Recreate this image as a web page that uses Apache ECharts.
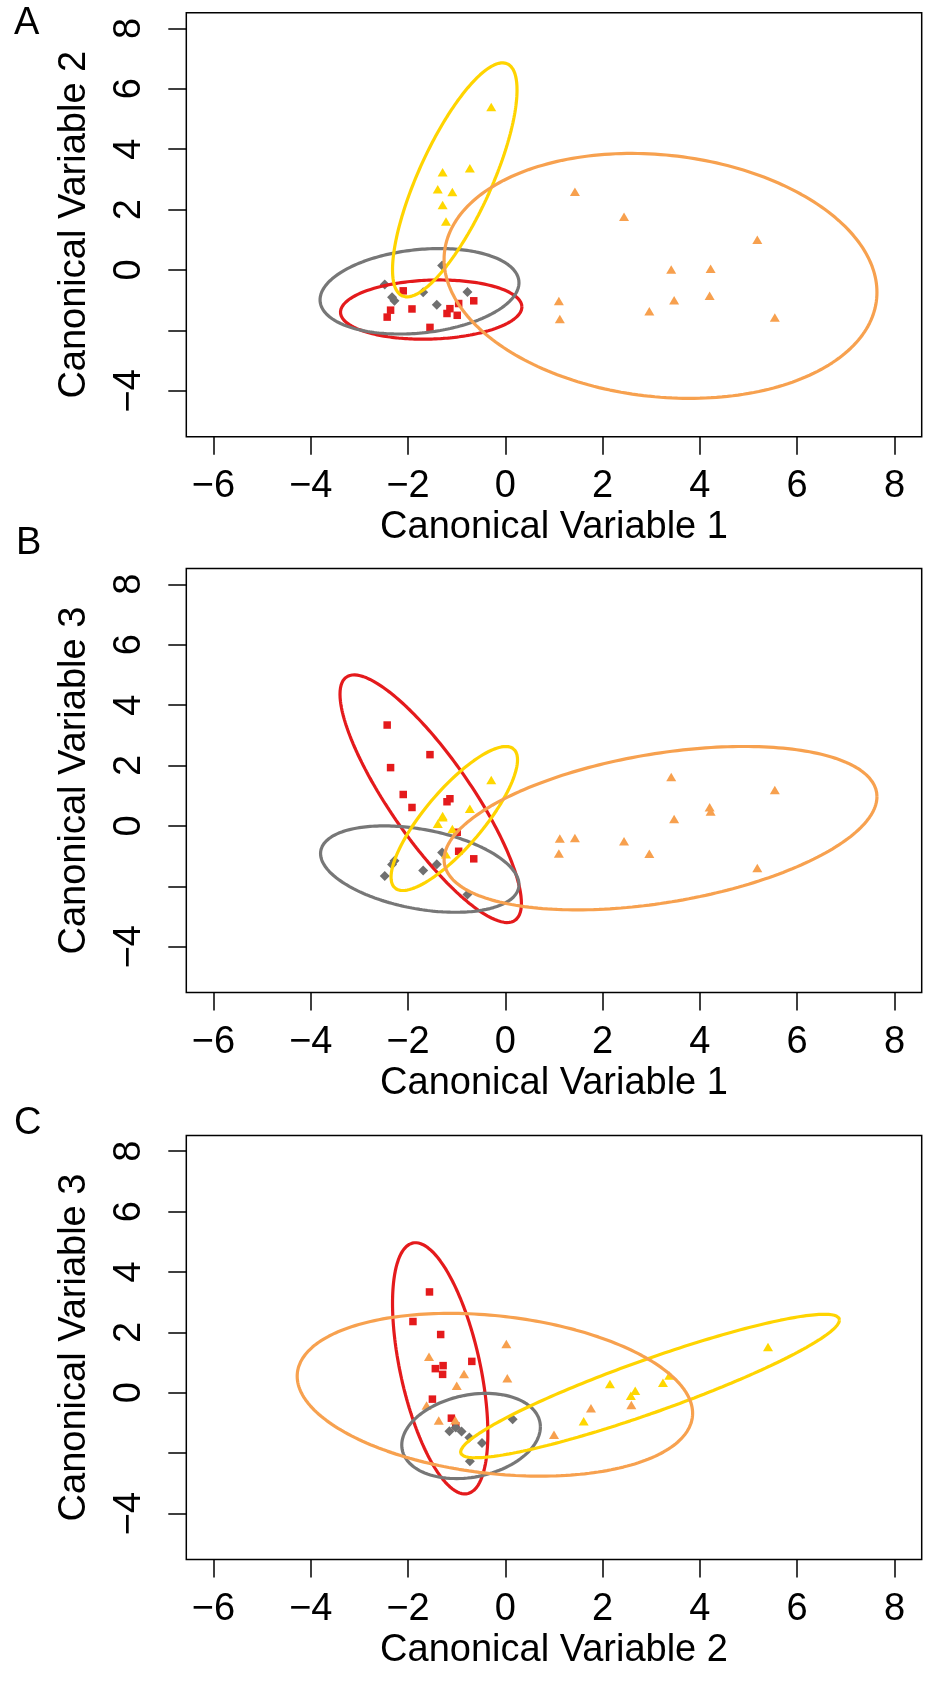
<!DOCTYPE html>
<html><head><meta charset="utf-8">
<script src="https://cdn.jsdelivr.net/npm/echarts@6/dist/echarts.min.js"></script>
<style>html,body{margin:0;padding:0;background:#fff}#c{width:925px;height:1686px}</style>
</head><body><div id="c"></div>
<script>
// ---------- tick labels / titles ----------
const xTicks = [-6, -4, -2, 0, 2, 4, 6, 8];
const yTicks = [-4, -2, 0, 2, 4, 6, 8];
const yTickLabels = [-4, 0, 2, 4, 6, 8];
const panelLetters = ['A', 'B', 'C'];
const xTitles = ['Canonical Variable 1', 'Canonical Variable 1', 'Canonical Variable 2'];
const yTitles = ['Canonical Variable 2', 'Canonical Variable 3', 'Canonical Variable 3'];
const panelX = ['cv1', 'cv1', 'cv2'];
const panelY = ['cv2', 'cv3', 'cv3'];

// ---------- canonical scores per group ----------
const redCV1 = [-2.10, -2.36, -2.43, -1.92, -1.55, -1.14, -1.20, -0.99, -0.96, -0.65];
const redCV2 = [-0.69, -1.33, -1.56, -1.29, -1.90, -1.28, -1.44, -1.50, -1.11, -1.02];
const redCV3 = [1.04, 1.93, 3.34, 0.61, 2.36, 0.90, 0.80, -0.21, -0.84, -1.09];

const grayCV1 = [-2.48, -2.33, -2.28, -1.69, -1.41, -0.78, -1.30];
const grayCV2 = [-0.48, -0.90, -1.02, -0.74, -1.15, -0.73, 0.15];
const grayCV3 = [-1.66, -1.28, -1.15, -1.48, -1.27, -2.27, -0.88];

const yellowCV1 = [-0.29, -1.29, -0.73, -1.39, -1.09, -1.29, -1.22];
const yellowCV2 = [5.40, 3.24, 3.37, 2.67, 2.58, 2.15, 1.61];
const yellowCV3 = [1.52, 0.33, 0.57, 0.07, -0.10, 0.29, -0.94];

const orangeCV1 = [1.43, 2.44, 5.18, 3.41, 4.22, 3.47, 4.20, 2.96, 1.10, 1.12, 5.54];
const orangeCV2 = [2.59, 1.76, 1.00, 0.02, 0.04, -1.00, -0.85, -1.37, -1.03, -1.62, -1.57];
const orangeCV3 = [-0.40, -0.51, -1.39, 1.62, 0.48, 0.23, 0.62, -0.92, -0.91, -0.42, 1.19];

// ---------- ellipses: [centerX, centerY, halfWidth, halfHeight, yPhaseCos] ----------
const redEllA = [-1.525, -1.31, 1.865, 0.98, 0.09];
const grayEllA = [-1.765, -0.705, 2.045, 1.415, 0.20];
const yellowEllA = [-1.04, 2.985, 1.28, 3.875, 0.768];
const orangeEllA = [3.19, -0.195, 4.45, 4.055, -0.134];

const redEllB = [-1.535, 0.90, 1.865, 4.10, -0.844];
const grayEllB = [-1.76, -1.43, 2.04, 1.43, -0.36];
const yellowEllB = [-1.05, 0.245, 1.30, 2.385, 0.815];
const orangeEllB = [3.19, -0.075, 4.45, 2.705, 0.386];

const redEllC = [-1.34, 0.81, 0.98, 4.16, -0.517];
const grayEllC = [-0.705, -1.43, 1.425, 1.41, 0.213];
const yellowEllC = [2.975, 0.225, 3.895, 2.375, 0.92];
const orangeEllC = [-0.215, -0.065, 4.065, 2.695, -0.228];

// ---------- build ----------
const groups = [
  {key: 'red', cv1: redCV1, cv2: redCV2, cv3: redCV3, color: '#E41A1C', symbol: 'rect', size: [7.5, 7.5], ell: [redEllA, redEllB, redEllC]},
  {key: 'gray', cv1: grayCV1, cv2: grayCV2, cv3: grayCV3, color: '#707070', symbol: 'diamond', size: [10, 10], lineColor: '#777777', ell: [grayEllA, grayEllB, grayEllC]},
  {key: 'yellow', cv1: yellowCV1, cv2: yellowCV2, cv3: yellowCV3, color: '#FFD700', symbol: 'triangle', size: [10, 8.5], lineColor: '#FFD400', ell: [yellowEllA, yellowEllB, yellowEllC]},
  {key: 'orange', cv1: orangeCV1, cv2: orangeCV2, cv3: orangeCV3, color: '#F7A04E', symbol: 'triangle', size: [10, 8.5], lineColor: '#F7A14F', ell: [orangeEllA, orangeEllB, orangeEllC]}
];

function ellipsePoints(p) {
  const [cx, cy, rx, ry, c] = p;
  const d = Math.acos(c);
  const pts = [];
  const n = 240;
  for (let i = 0; i <= n; i++) {
    const t = 2 * Math.PI * i / n;
    pts.push([cx + rx * Math.cos(t), cy + ry * Math.cos(t - d)]);
  }
  return pts;
}

const FONT = '"Liberation Sans", Arial, sans-serif';
const gridTops = [12.7, 568.6, 1135.5];
const grids = [], xAxes = [], yAxes = [], series = [], graphics = [];
const minus = v => (v < 0 ? '\u2212' + Math.abs(v) : String(v));

for (let i = 0; i < 3; i++) {
  grids.push({left: 186.3, top: gridTops[i], width: 735.4, height: 424, show: true,
    borderColor: '#000', borderWidth: 1.5, backgroundColor: 'transparent', containLabel: false});
  xAxes.push({gridIndex: i, type: 'value', min: -6.56, max: 8.56, position: 'bottom',
    axisLine: {show: false, onZero: false}, splitLine: {show: false},
    axisTick: {show: true, inside: false, length: 18, customValues: xTicks, lineStyle: {color: '#000', width: 1.5}},
    axisLabel: {customValues: xTicks, formatter: minus, fontSize: 38, color: '#000', fontFamily: FONT, margin: 31},
    name: xTitles[i], nameLocation: 'middle', nameGap: 72,
    nameTextStyle: {fontSize: 38, color: '#000', fontFamily: FONT}});
  yAxes.push({gridIndex: i, type: 'value', min: -5.52, max: 8.52, position: 'left',
    axisLine: {show: false, onZero: false}, splitLine: {show: false},
    axisTick: {show: true, inside: false, length: 18, customValues: yTicks, lineStyle: {color: '#000', width: 1.5}},
    axisLabel: {customValues: yTickLabels, formatter: minus, rotate: 90, fontSize: 38, color: '#000', fontFamily: FONT, margin: 38},
    name: yTitles[i], nameLocation: 'middle', nameGap: 93,
    nameTextStyle: {fontSize: 38, color: '#000', fontFamily: FONT}});
  groups.forEach(g => {
    const xs = g[panelX[i]], ys = g[panelY[i]];
    series.push({type: 'scatter', xAxisIndex: i, yAxisIndex: i, symbol: g.symbol, symbolSize: g.size,
      itemStyle: {color: g.color, opacity: 1}, z: 2, silent: true,
      data: xs.map((v, k) => [v, ys[k]])});
  });
  groups.forEach(g => {
    series.push({type: 'line', xAxisIndex: i, yAxisIndex: i, showSymbol: false, smooth: false, silent: true,
      lineStyle: {color: g.lineColor || g.color, width: 3.2}, z: 3,
      data: ellipsePoints(g.ell[i])});
  });
}

const letterPos = [[14, 5], [16, 525], [14, 1104.5]];
panelLetters.forEach((t, i) => {
  graphics.push({type: 'text', left: letterPos[i][0], top: letterPos[i][1],
    style: {text: t, fontSize: 38, fill: '#000', fontFamily: FONT}});
});

const chart = echarts.init(document.getElementById('c'), null, {renderer: 'canvas', width: 925, height: 1686});
chart.setOption({animation: false, backgroundColor: '#fff', grid: grids, xAxis: xAxes, yAxis: yAxes, series: series, graphic: graphics});
</script></body></html>
